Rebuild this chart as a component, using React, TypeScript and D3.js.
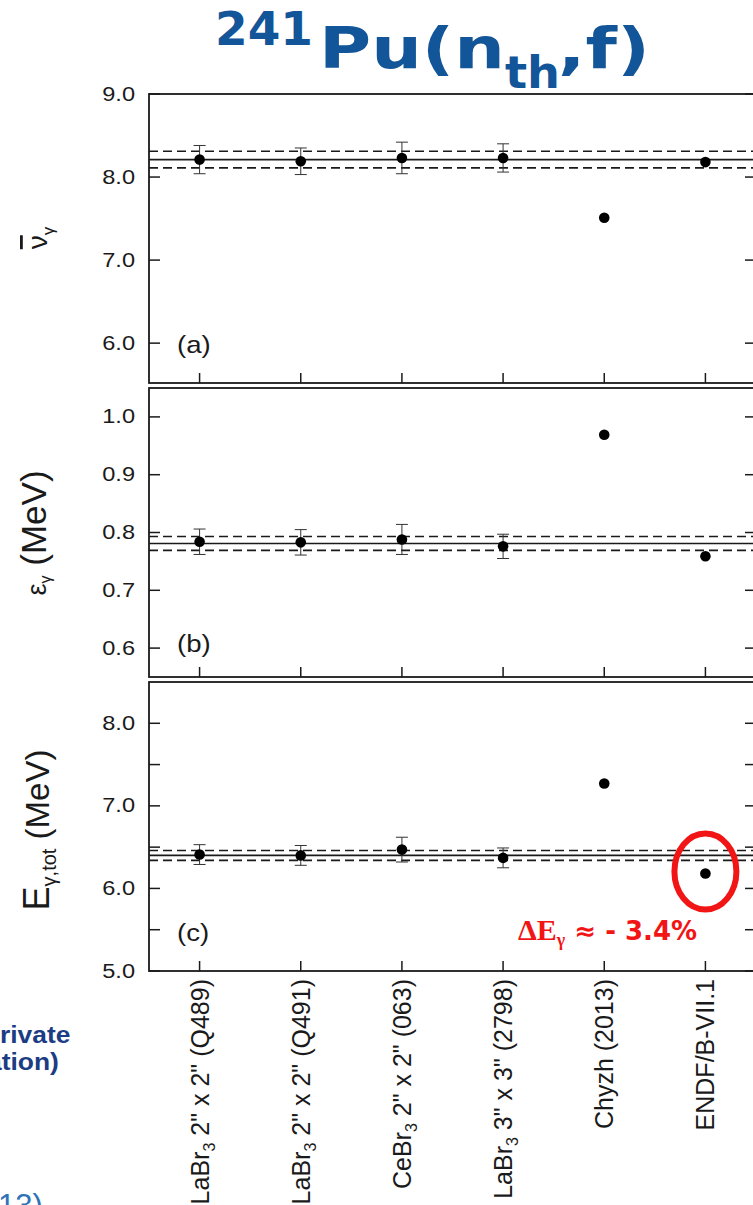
import React from "react";
import * as d3 from "d3";

// ---- data ----
const categories = ["Q489", "Q491", "063", "2798", "Chyzh", "ENDF"];
const catLabelMain = ["LaBr", "LaBr", "CeBr", "LaBr", "Chyzh (2013)", "ENDF/B-VII.1"];
const catLabelSub = ["3", "3", "3", "3", "", ""];
const catLabelRest = [" 2\" x 2\" (Q489)", " 2\" x 2\" (Q491)", " 2\" x 2\" (063)", " 3\" x 3\" (2798)", "", ""];

const nuValues = [8.21, 8.19, 8.23, 8.23, 7.51, 8.18];
const nuErrors = [0.17, 0.16, 0.19, 0.17, 0, 0];
const nuBand = [8.11, 8.21, 8.31];

const epsValues = [0.784, 0.783, 0.788, 0.776, 0.969, 0.759];
const epsErrors = [0.022, 0.022, 0.026, 0.021, 0, 0];
const epsBand = [0.769, 0.781, 0.793];

const etotValues = [6.41, 6.40, 6.47, 6.37, 7.27, 6.18];
const etotErrors = [0.12, 0.12, 0.15, 0.12, 0, 0];
const etotBand = [6.34, 6.40, 6.46];

const nuTicks = [6.0, 7.0, 8.0, 9.0];
const epsTicks = [0.6, 0.7, 0.8, 0.9, 1.0];
const etotTicks = [5.0, 6.0, 7.0, 8.0];
const etotMinor = [5.5, 6.5, 7.5];

const W = 753;
const H = 1205;
const LEFT = 149;
const RIGHT = 756;
const SX = 1.15;
const SANS = "'Liberation Sans', Arial, Helvetica, sans-serif";
const INK = "#1a1a1a";

const x = d3.scaleBand<string>().domain(categories).range([LEFT, RIGHT]);
const cx = (c: string) => (x(c) as number) + x.bandwidth() / 2;

type Panel = {
  tag: string;
  top: number;
  bottom: number;
  domain: [number, number];
  ticks: number[];
  minor: number[];
  values: number[];
  errors: number[];
  band: number[];
  tagY: number;
};

const panels: Panel[] = [
  { tag: "(a)", top: 94, bottom: 383, domain: [5.52, 9.0], ticks: nuTicks, minor: [], values: nuValues, errors: nuErrors, band: nuBand, tagY: 353 },
  { tag: "(b)", top: 388, bottom: 677, domain: [0.55, 1.05], ticks: epsTicks, minor: [], values: epsValues, errors: epsErrors, band: epsBand, tagY: 652 },
  { tag: "(c)", top: 682, bottom: 971, domain: [5.0, 8.5], ticks: etotTicks, minor: etotMinor, values: etotValues, errors: etotErrors, band: etotBand, tagY: 941 },
];

function PanelView({ p }: { p: Panel }) {
  const y = d3.scaleLinear().domain(p.domain).range([p.bottom, p.top]);
  const fmt = d3.format(".1f");
  const tickLen = 11;
  const allTicks = [...p.ticks, ...p.minor];
  return (
    <g>
      {/* reference band */}
      <line x1={LEFT} x2={RIGHT} y1={y(p.band[1])} y2={y(p.band[1])} stroke={INK} strokeWidth={1.6} />
      <line x1={LEFT} x2={RIGHT} y1={y(p.band[0])} y2={y(p.band[0])} stroke={INK} strokeWidth={1.6} strokeDasharray="9,5" />
      <line x1={LEFT} x2={RIGHT} y1={y(p.band[2])} y2={y(p.band[2])} stroke={INK} strokeWidth={1.6} strokeDasharray="9,5" />
      {/* error bars */}
      {categories.map((c, i) =>
        p.errors[i] > 0 ? (
          <g key={"e" + i} stroke="#333" strokeWidth={1}>
            <line x1={cx(c)} x2={cx(c)} y1={y(p.values[i] - p.errors[i])} y2={y(p.values[i] + p.errors[i])} />
            <line x1={cx(c) - 6} x2={cx(c) + 6} y1={y(p.values[i] - p.errors[i])} y2={y(p.values[i] - p.errors[i])} />
            <line x1={cx(c) - 6} x2={cx(c) + 6} y1={y(p.values[i] + p.errors[i])} y2={y(p.values[i] + p.errors[i])} />
          </g>
        ) : null
      )}
      {/* points */}
      {categories.map((c, i) => (
        <circle key={"p" + i} cx={cx(c)} cy={y(p.values[i])} r={5.3} fill="#000" />
      ))}
      {/* frame */}
      <rect x={LEFT} y={p.top} width={RIGHT - LEFT} height={p.bottom - p.top} fill="none" stroke={INK} strokeWidth={1.8} />
      {/* y ticks */}
      {allTicks.map((t, i) => (
        <g key={"t" + i} stroke={INK} strokeWidth={1.5}>
          <line x1={LEFT} x2={LEFT + tickLen} y1={y(t)} y2={y(t)} />
          <line x1={RIGHT - tickLen} x2={RIGHT} y1={y(t)} y2={y(t)} />
        </g>
      ))}
      {p.ticks.map((t, i) => (
        <text
          key={"tl" + i}
          transform={`translate(135,${y(t) + 6.5}) scale(${SX},1)`}
          textAnchor="end"
          fontFamily={SANS}
          fontSize={20.5}
          fill={INK}
        >
          {fmt(t)}
        </text>
      ))}
      {/* x ticks (inward, bottom) */}
      {categories.map((c, i) => (
        <line key={"xt" + i} x1={cx(c)} x2={cx(c)} y1={p.bottom} y2={p.bottom - 10} stroke={INK} strokeWidth={1.5} />
      ))}
      <text transform={`translate(177,${p.tagY}) scale(${SX},1)`} fontFamily={SANS} fontSize={24} fill={INK}>
        {p.tag}
      </text>
    </g>
  );
}

export default function App() {
  const yc = d3.scaleLinear().domain(panels[2].domain).range([panels[2].bottom, panels[2].top]);
  const endf = categories[5];
  return (
    <svg
      width={W}
      height={H}
      viewBox={`0 0 ${W} ${H}`}
      style={{ position: "absolute", left: 0, top: 0, display: "block", background: "#fff" }}
    >
      <rect x={0} y={0} width={W} height={H} fill="#fff" />
      {/* title */}
      <g fill="#135599" fontFamily="'DejaVu Sans', Verdana, sans-serif" fontWeight="bold">
        <text x={215} y={45} fontSize={47} textLength={98} lengthAdjust="spacingAndGlyphs">241</text>
        <text x={319} y={68} fontSize={57} textLength={186} lengthAdjust="spacingAndGlyphs">Pu(n</text>
        <text x={505} y={88} fontSize={44} textLength={55} lengthAdjust="spacingAndGlyphs">th</text>
        <text x={558} y={68} fontSize={57} textLength={92} lengthAdjust="spacingAndGlyphs">,f)</text>
      </g>

      {panels.map((p, i) => (
        <PanelView key={i} p={p} />
      ))}

      {/* y-axis labels */}
      <text transform="translate(47,238) rotate(-90)" textAnchor="middle" fontFamily={SANS} fill={INK}>
        <tspan fontSize={28} style={{ textDecoration: "overline" }}>ν</tspan>
        <tspan fontSize={17} dy={7}>γ</tspan>
      </text>
      <text transform="translate(46,533) rotate(-90)" textAnchor="middle" fontFamily={SANS} fill={INK}>
        <tspan fontSize={27}>ε</tspan>
        <tspan fontSize={16} dy={5}>γ</tspan>
        <tspan fontSize={35} dy={-5}>{" (MeV)"}</tspan>
      </text>
      <text transform="translate(49,830) rotate(-90)" textAnchor="middle" fontFamily={SANS} fill={INK}>
        <tspan fontSize={36}>E</tspan>
        <tspan fontSize={20} dy={7}>γ,tot</tspan>
        <tspan fontSize={33} dy={-7}>{" (MeV)"}</tspan>
      </text>

      {/* category labels */}
      {categories.map((c, i) => (
        <text
          key={"cl" + i}
          transform={`translate(${cx(c) + 9},979) rotate(-90)`}
          textAnchor="end"
          fontFamily={SANS}
          fontSize={25}
          fill={INK}
        >
          <tspan>{catLabelMain[i]}</tspan>
          {catLabelSub[i] ? <tspan fontSize={16} dy={6}>{catLabelSub[i]}</tspan> : null}
          {catLabelRest[i] ? <tspan dy={-6}>{catLabelRest[i]}</tspan> : null}
        </text>
      ))}

      {/* red annotation */}
      <ellipse cx={cx(endf)} cy={yc(etotValues[5]) - 2} rx={31} ry={38} fill="none" stroke="#f21515" strokeWidth={6} />
      <text x={518} y={940} fill="#f21515" fontWeight="bold">
        <tspan fontFamily="'Liberation Serif', 'Times New Roman', serif" fontSize={30}>ΔE</tspan>
        <tspan fontFamily="'Liberation Serif', 'Times New Roman', serif" fontSize={18} dy={6}>γ</tspan>
        <tspan fontFamily="'DejaVu Sans', Verdana, sans-serif" fontSize={26} dy={-6}>{" ≈ - 3.4%"}</tspan>
      </text>

      {/* fragments of surrounding slide text */}
      <g fill="#1c3c84" fontFamily={SANS} fontWeight="bold" fontSize={24}>
        <text transform={`translate(0,1043) scale(1.1,1)`}>rivate</text>
        <text transform={`translate(-13,1070) scale(1.1,1)`}>ation)</text>
      </g>
      <text x={-2} y={1216} fill="#2f72b8" fontFamily={SANS} fontSize={31}>13)</text>
    </svg>
  );
}
